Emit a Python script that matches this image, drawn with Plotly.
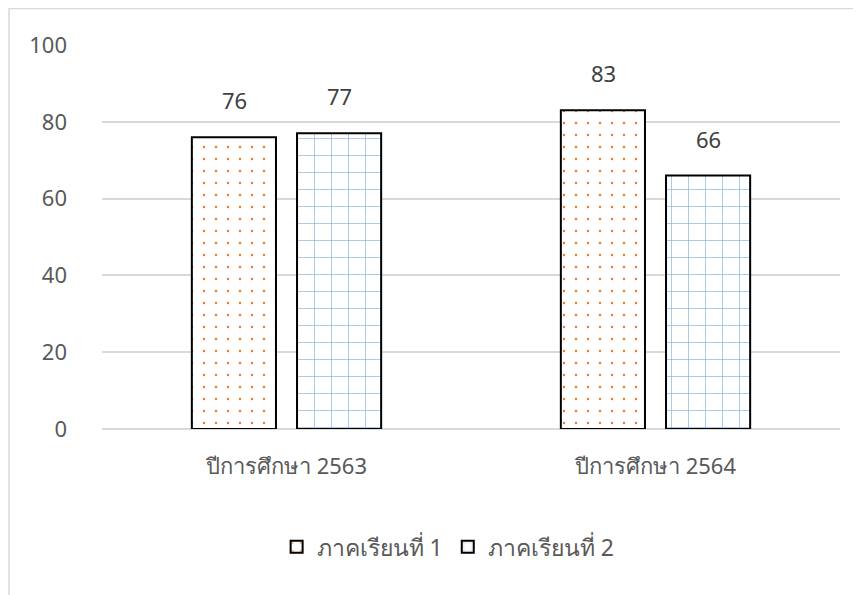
import plotly.graph_objects as go

categories = ["ปีการศึกษา 2563", "ปีการศึกษา 2564"]
series_names = ["ภาคเรียนที่ 1", "ภาคเรียนที่ 2"]
sem1 = [76, 83]
sem2 = [77, 66]
y_ticks = [0, 20, 40, 60, 80, 100]

FONT = "Noto Sans, Open Sans, DejaVu Sans, sans-serif"

fig = go.Figure()
fig.add_trace(go.Bar(
    x=categories, y=sem1, name=series_names[0],
    marker=dict(color="white", line=dict(color="black", width=2),
                pattern=dict(shape=".", fgcolor="#ED7D31", bgcolor="white", size=12,
                             solidity=0.035, fgopacity=1)),
))
fig.add_trace(go.Bar(
    x=categories, y=sem2, name=series_names[1],
    marker=dict(color="white", line=dict(color="black", width=2),
                pattern=dict(shape="+", fgcolor="#5B9BD5", bgcolor="white", size=17,
                             solidity=0.08, fgopacity=0.75)),
))

annotations = []
for vals, shift in [(sem1, -52.5), (sem2, 52.5)]:
    for c, v in zip(categories, vals):
        annotations.append(dict(x=c, y=v, text=str(v), showarrow=False, xshift=shift,
                                yshift=37, font=dict(size=22, color="#404040", family=FONT)))

fig.update_layout(
    width=861, height=595,
    margin=dict(l=94, r=29, t=37, b=174),
    paper_bgcolor="white", plot_bgcolor="white",
    barmode="group", bargap=0.43, bargroupgap=0.2,
    font=dict(family=FONT, color="#595959", size=22),
    showlegend=True,
    legend=dict(orientation="h", x=0.469, xanchor="center", y=-0.307, yanchor="middle",
                font=dict(size=23, color="#595959"), itemwidth=30),
    annotations=annotations,
    shapes=[dict(type="rect", xref="paper", yref="paper", x0=-0.126, x1=1.3, y0=-0.8, y1=1.0953,
                 line=dict(color="#d9d9d9", width=1.5), fillcolor="rgba(0,0,0,0)", layer="below")],
)
fig.update_yaxes(range=[0, 100], tickvals=y_ticks, showgrid=True, gridcolor="#d9d9d9", gridwidth=1.5,
                 zeroline=True, zerolinecolor="#d9d9d9", zerolinewidth=1.5, showline=False,
                 ticks="", ticklabelstandoff=34, tickfont=dict(size=22, color="#595959"))
fig.update_xaxes(showgrid=False, showline=False, ticks="", tickfont=dict(size=22, color="#595959"),
                 ticklabelstandoff=22)

fig.write_html("out.html")
